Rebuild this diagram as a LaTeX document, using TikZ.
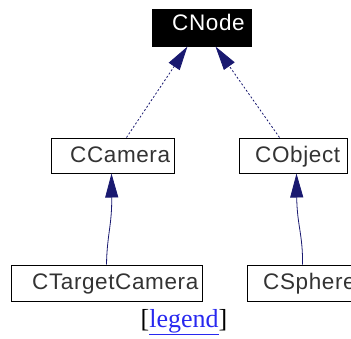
\documentclass[tikz,border=0pt]{standalone}
\usepackage{fontspec}
\setmainfont{Liberation Serif}
\newfontfamily\boxfont[LetterSpace=2.7]{Liberation Sans}
\usetikzlibrary{arrows.meta,calc}
\definecolor{edgeblue}{HTML}{191970}
\definecolor{linkblue}{RGB}{40,40,240}
\begin{document}
\begin{tikzpicture}[x=1pt,y=-1pt,
  cls/.style={draw=black, line width=1pt, rectangle, inner sep=0pt},
  lbl/.style={font=\boxfont\fontsize{22.5}{27}\selectfont, text=black!80, inner sep=0pt, anchor=base west},
  inh/.style={draw=edgeblue, line width=0.8pt, -{Triangle[length=24pt,width=13pt]}},
  dep/.style={inh, dash pattern=on 2pt off 2pt}]
\useasboundingbox (0,0) rectangle (351,338);
\clip (0,0) rectangle (351,338);

% class boxes
\node[cls, fill=black, minimum width=99pt, minimum height=37pt] (cnode) at (201.5,27.5) {};
\node[cls, minimum width=123pt, minimum height=35pt] (cam) at (112.5,155.5) {};
\node[cls, minimum width=108pt, minimum height=35pt] (obj) at (293,155.5) {};
\node[cls, minimum width=191pt, minimum height=36pt] (tgt) at (106.5,283) {};
\node[cls, minimum width=113pt, minimum height=36pt] (sph) at (303.5,283) {};

% class names
\node[lbl, text=white] (cnodeT) at (172,30) {CNode};
\node[lbl] (camT) at (70,162) {CCamera};
\node[lbl] (objT) at (255,162) {CObject};
\node[lbl] (tgtT) at (32,289) {CTargetCamera};
\node[lbl] (sphT) at (263,289) {CSphere};

% inheritance edges
\draw[dep] ($(cam.north west)+(76,0)$) -- ($(cnode.south west)+(36,0)$);
\draw[dep] ($(obj.north west)+(41,0)$) -- ($(cnode.south west)+(64,0)$);
\draw[inh] ($(tgt.north west)+(96,0)$) .. controls (107,235) and (112,225) .. ($(cam.south west)+(61,0)$);
\draw[inh] ($(sph.north west)+(56,0)$) .. controls (303,235) and (297,225) .. ($(obj.south west)+(58,0)$);

% legend link
\node[anchor=base, inner sep=0pt, font=\fontsize{26}{30}\selectfont] (legend) at (184,327)
  {[\textcolor{linkblue}{\underline{legend}}]};
\end{tikzpicture}
\end{document}
